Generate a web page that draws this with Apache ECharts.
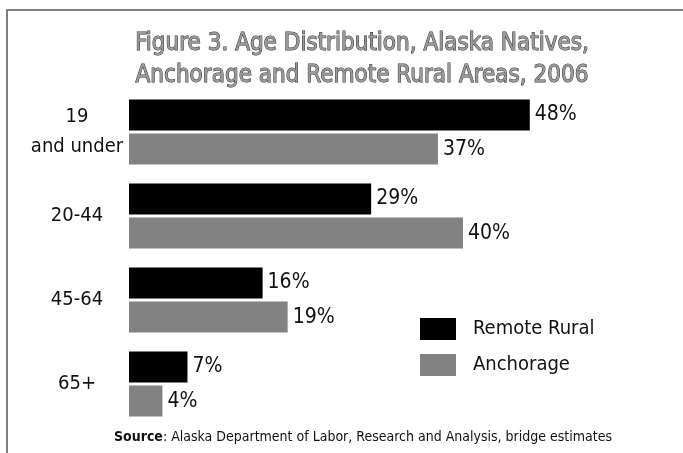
<!DOCTYPE html>
<html>
<head>
<meta charset="utf-8">
<script src="https://cdn.jsdelivr.net/npm/echarts@6/dist/echarts.min.js"></script>
<style>
  html, body { margin: 0; padding: 0; background: #fff; }
  #main { width: 683px; height: 453px; }
</style>
</head>
<body>
<div id="main"></div>
<script>
    var FONT = '"Liberation Sans Narrow", "DejaVu Sans Condensed", "Noto Sans", sans-serif';

    var ageGroups = ['19\nand under', '20-44', '45-64', '65+'];
    var remoteRural = [48, 29, 16, 7];
    var anchorage = [37, 40, 19, 4];
    var seriesNames = ['Remote Rural', 'Anchorage'];

    var myChart = echarts.init(document.getElementById('main'));

    // value labels on the bars
    var barLabel = {
        show: true,
        position: 'right',
        distance: 5,
        formatter: '{c}%',
        fontFamily: FONT,
        fontSize: 21,
        color: '#111'
    };

    var option = {
        backgroundColor: '#fff',
        animation: false,
        title: {
            text: 'Figure 3. Age Distribution, Alaska Natives,\nAnchorage and Remote Rural Areas, 2006',
            left: 357,
            textAlign: 'center',
            top: 23,
            textStyle: {
                fontFamily: FONT,
                fontSize: 24,
                fontWeight: 'normal',
                lineHeight: 32,
                color: '#9a9a9a',
                textBorderColor: '#333',
                textBorderWidth: 1
            }
        },
        legend: {
            data: seriesNames,
            orient: 'vertical',
            left: 415,
            top: 313,
            itemWidth: 36,
            itemHeight: 22,
            itemGap: 14,
            icon: 'rect',
            textStyle: {
                fontFamily: FONT,
                fontSize: 20,
                color: '#111',
                padding: [0, 0, 0, 12]
            }
        },
        grid: {
            left: 129,
            top: 90,
            width: 501,
            height: 336,
            containLabel: false
        },
        xAxis: [
            {
                type: 'value',
                min: 0,
                max: 60,
                show: false
            }
        ],
        yAxis: [
            {
                type: 'category',
                inverse: true,
                data: ageGroups,
                axisLine: {show: false},
                axisTick: {show: false},
                axisLabel: {
                    fontFamily: FONT,
                    fontSize: 20,
                    lineHeight: 30,
                    color: '#111',
                    align: 'center',
                    margin: 52,
                    padding: [6, 0, 0, 0]
                }
            }
        ],
        series: [
            {
                name: seriesNames[0],
                type: 'bar',
                data: remoteRural,
                barWidth: 31,
                barGap: '10%',
                itemStyle: {color: '#000'},
                label: barLabel
            },
            {
                name: seriesNames[1],
                type: 'bar',
                data: anchorage,
                barWidth: 31,
                itemStyle: {color: '#828282'},
                label: barLabel
            }
        ],
        graphic: [
            {
                type: 'rect',
                shape: {x: 7, y: 10, width: 720, height: 500},
                style: {fill: 'none', stroke: '#555', lineWidth: 1.5},
                silent: true
            },
            {
                type: 'text',
                left: 114,
                top: 430,
                style: {
                    text: '{b|Source}: Alaska Department of Labor, Research and Analysis, bridge estimates',
                    rich: {
                        b: {fontFamily: FONT, fontSize: 14, fontWeight: 'bold', fill: '#111'}
                    },
                    fontFamily: FONT,
                    fontSize: 14,
                    fill: '#111'
                }
            }
        ]
    };

    myChart.setOption(option);
</script>
</body>
</html>
